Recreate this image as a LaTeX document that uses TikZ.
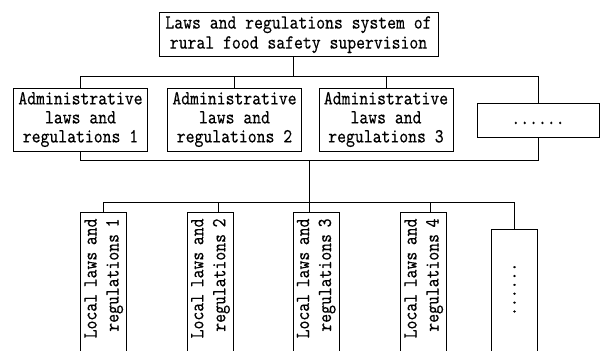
\documentclass[tikz,border=0pt]{standalone}
\usepackage{fontspec}
\setmonofont{lmmono10-regular.otf}[FakeStretch=0.845, FakeBold=0.3]
\begin{document}
\begin{tikzpicture}[x=1pt,y=-1pt,
  every node/.style={line width=1pt},
  tbox/.style={draw, inner sep=0pt, align=center, font=\ttfamily\fontsize{20}{20}\selectfont},
  abox/.style={draw, inner sep=0pt, minimum width=134pt, minimum height=63pt, align=center, font=\ttfamily\fontsize{20}{19}\selectfont},
  lbox/.style={draw, rotate=90, anchor=east, minimum width=160pt, minimum height=46pt, inner ysep=0pt, inner xsep=6.3pt, text width=147.4pt, align=right, font=\ttfamily\fontsize{20}{22}\selectfont},
  dbox/.style={draw, rotate=90, anchor=east, minimum width=160pt, minimum height=45.6pt, inner ysep=0pt, inner xsep=33.2pt, text width=93.6pt, align=right, font=\ttfamily\fontsize{20}{22}\selectfont},
  conn/.style={line width=1pt}]
\useasboundingbox (0,0) rectangle (603,351);
\clip (0,0) rectangle (603,351);
% top
\node[tbox, minimum width=279pt, minimum height=44pt] (top) at (298.5,34.7) {Laws and regulations system of\\rural food safety supervision};
% administrative
\node[abox] (a1) at (80.5,119.5) {Administrative\\laws and\\regulations 1};
\node[abox] (a2) at (234.5,119.5) {Administrative\\laws and\\regulations 2};
\node[abox] (a3) at (386,119.5) {Administrative\\laws and\\regulations 3};
\node[tbox, minimum width=122pt, minimum height=34pt, text height=8.4pt, text depth=0pt] (ad) at (538,120) {......};
% local
\node[lbox] (l1) at (103.7,211.7) {Local laws and\\regulations 1};
\node[lbox] (l2) at (210.5,211.7) {Local laws and\\regulations 2};
\node[lbox] (l3) at (316.2,211.7) {Local laws and\\regulations 3};
\node[lbox] (l4) at (423.7,211.7) {Local laws and\\regulations 4};
\node[dbox] (ld) at (514.5,229) {......};
% connector coordinates
\coordinate (t) at (293,76);
\coordinate (u) at (309.3,160);
\coordinate (v) at (0,202.7);
\coordinate (d2) at (218.3,202.7);
\coordinate (d4) at (430.7,202.7);
% connectors
\draw[conn] (t |- top.south) -- (t);
\draw[conn] (a1.north) -- (a1.north |- t) -- (ad.north |- t) -- (ad.north);
\draw[conn] (a2.north) -- (a2.north |- t);
\draw[conn] (a3.north) -- (a3.north |- t);
\draw[conn] (a1.south) -- (a1.south |- u) -- (ad.south |- u) -- (ad.south);
\draw[conn] (u) -- (u |- l3.east);
\draw[conn] (l1.east) -- (l1.east |- v) -- (ld.east |- v) -- (ld.east);
\draw[conn] (d2) -- (d2 |- l2.east);
\draw[conn] (d4) -- (d4 |- l4.east);
\end{tikzpicture}
\end{document}
